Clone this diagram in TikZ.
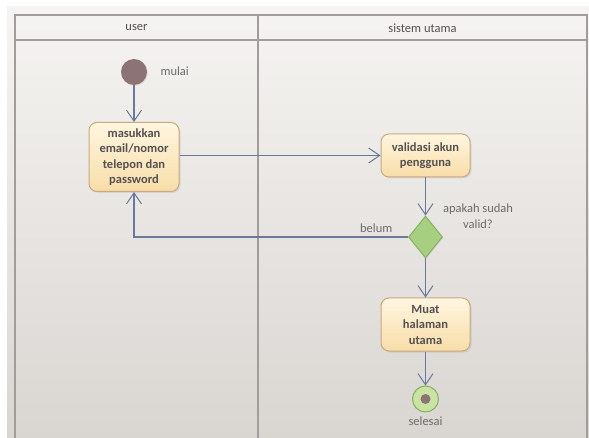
\documentclass[tikz,border=0pt]{standalone}
\usepackage{fontspec}
\setmainfont{Carlito}
\usetikzlibrary{arrows.meta,shapes.geometric,shadows}

\definecolor{bgtop}{HTML}{F6F4F2}
\definecolor{bgbot}{HTML}{D9D6D2}
\definecolor{frameline}{HTML}{A39C9C}
\definecolor{flowline}{HTML}{6A789A}
\definecolor{boxedge}{HTML}{C9A980}
\definecolor{boxtop}{HTML}{FFF6E0}
\definecolor{boxbot}{HTML}{F8DDA8}
\definecolor{txt}{HTML}{555151}
\definecolor{mauve}{HTML}{8C7476}
\definecolor{decfill}{HTML}{A6D07F}
\definecolor{decedge}{HTML}{86B25E}
\definecolor{endfill}{HTML}{C9E3A2}

\tikzset{
  actbox/.style={draw=boxedge, line width=1pt, rounded corners=8pt,
    top color=boxtop, bottom color=boxbot, align=center, inner sep=2pt,
    font=\fontsize{12.5}{15.5}\selectfont\bfseries, text=txt,
    drop shadow={opacity=0.18, shadow xshift=1.5pt, shadow yshift=-1.5pt}},
  flow/.style={draw=flowline, line width=1.1pt,
    -{Straight Barb[length=11pt, width=15pt, line width=1pt]}},
  lbl/.style={font=\fontsize{12.5}{16}\selectfont, text=txt!85, align=center},
  lane/.style={draw=frameline, line width=1.8pt},
}

\begin{document}
\begin{tikzpicture}[x=1pt, y=-1pt]
\useasboundingbox (0,0) rectangle (589,438);
% canvas
\fill[white] (0,0) rectangle (589,438);
\shade[top color=bgtop, bottom color=bgbot] (7,7) rectangle (589,438);

% swimlanes
\draw[lane] (15,440) -- (15,15) -- (587,15) -- (587,440);
\draw[lane] (15,40) -- (587,40);
\draw[lane] (258,15) -- (258,440);
\node[lbl, text=txt] (hdrA) at (136.5,28) {user};
\node[lbl, text=txt] (hdrB) at (422.5,28) {sistem utama};

% activity nodes
\node[circle, fill=mauve, minimum size=26pt, inner sep=0pt,
      drop shadow={opacity=0.15, shadow xshift=1pt, shadow yshift=-1pt}] (start) at (134,72) {};
\node[lbl, anchor=west] (startlbl) at (157,71) {mulai};

\node[actbox, minimum width=90pt, minimum height=69pt] (box1) at (134,157)
  {masukkan\\email/nomor\\telepon dan\\password};
\node[actbox, minimum width=89pt, minimum height=43pt] (box2) at (425.5,155.5)
  {validasi akun\\pengguna};
\node[diamond, draw=decedge, line width=1pt, fill=decfill, minimum width=34pt,
      minimum height=42pt, inner sep=0pt,
      drop shadow={opacity=0.15, shadow xshift=1pt, shadow yshift=-1pt}] (dec) at (425.5,237) {};
\node[lbl] (declbl) at (478,216) {apakah sudah\\valid?};
\node[actbox, minimum width=89pt, minimum height=53pt] (box3) at (425.5,324.5)
  {Muat\\halaman\\utama};

\node[circle, draw=decedge, line width=1pt, fill=endfill, minimum size=26pt, inner sep=0pt] (end) at (425.5,399) {};
\node[circle, fill=mauve, minimum size=10pt, inner sep=0pt] (enddot) at (end.center) {};
\node[lbl] (endlbl) at (425.5,421) {selesai};

% control flow
\draw[flow] (start) -- (box1);
\draw[flow] (box1.east |- box2.west) -- (box2.west);
\draw[flow] (box2) -- (dec);
\draw[flow] (dec.west) -| (box1.south)
  node[lbl, pos=0.058, above=1pt] {belum};
\draw[flow] (dec) -- (box3);
\draw[flow] (box3) -- (end);
\end{tikzpicture}
\end{document}
